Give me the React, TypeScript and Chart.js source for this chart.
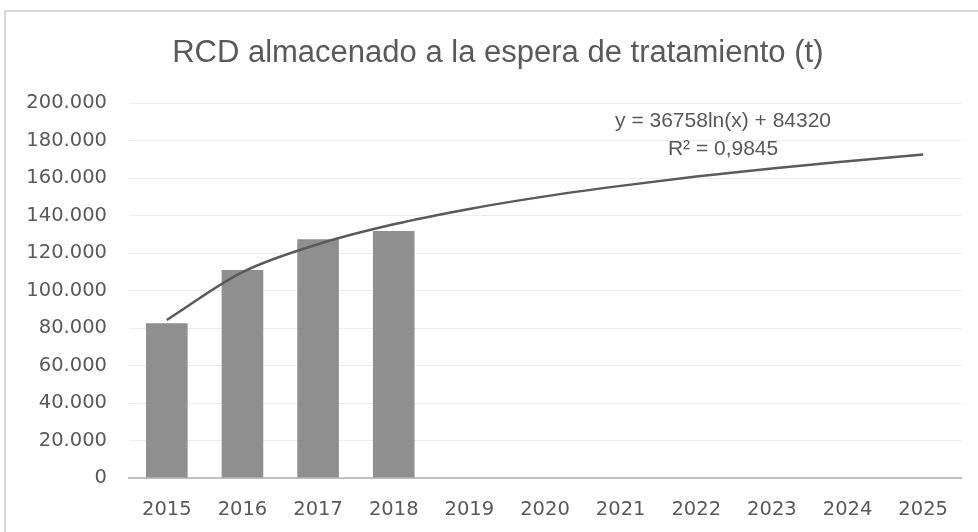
import React, { useEffect, useRef } from "react";
import { Chart, registerables } from "chart.js";

Chart.register(...registerables);

const years = ["2015", "2016", "2017", "2018", "2019", "2020", "2021", "2022", "2023", "2024", "2025"];
const storedTonnes = [82600, 111000, 127300, 131700, null, null, null, null, null, null, null];
const trendTonnes = [84300, 109800, 124700, 135300, 143500, 150200, 155800, 160800, 165100, 168900, 172500];
const yMin = 0;
const yMax = 200000;
const yStep = 20000;
const titleText = "RCD almacenado a la espera de tratamiento (t)";
const trendEquation = "y = 36758ln(x) + 84320";
const trendR2 = "R² = 0,9845";

const fmt = (v: number) => Math.round(v).toString().replace(/\B(?=(\d{3})+(?!\d))/g, ".");

const textPlugin = {
  id: "textLabels",
  afterDraw(chart: any) {
    const { ctx, chartArea, width } = chart;
    ctx.save();
    ctx.fillStyle = "#595959";
    ctx.textAlign = "center";
    ctx.textBaseline = "middle";
    // title
    ctx.font = "31px 'Liberation Sans', Arial, sans-serif";
    ctx.fillText(titleText, width * 0.509, 53);
    // trendline label
    const x = chartArea.left + (chartArea.right - chartArea.left) * 0.714;
    ctx.font = "21px 'Liberation Sans', Arial, sans-serif";
    ctx.fillText(trendEquation, x, chartArea.top + 18);
    ctx.fillText(trendR2, x, chartArea.top + 46);
    ctx.restore();
  },
};

export default function App() {
  const ref = useRef<HTMLCanvasElement | null>(null);

  useEffect(() => {
    if (!ref.current) return;
    const chart = new Chart(ref.current, {
      type: "bar",
      data: {
        labels: years,
        datasets: [
          {
            type: "line",
            label: "Tendencia",
            data: trendTonnes,
            borderColor: "#5a5a5a",
            borderWidth: 2.5,
            pointRadius: 0,
            cubicInterpolationMode: "monotone",
            fill: false,
            order: 0,
          } as any,
          {
            type: "bar",
            label: "RCD almacenado",
            data: storedTonnes,
            backgroundColor: "#8f8f8f",
            barPercentage: 0.55,
            categoryPercentage: 1,
            order: 1,
          } as any,
        ],
      },
      options: {
        responsive: false,
        animation: false,
        layout: { padding: { left: 0, right: 17, top: 103, bottom: 0 } },
        plugins: {
          legend: { display: false },
          tooltip: { enabled: false },
          title: { display: false },
        },
        scales: {
          x: {
            grid: { display: false, drawTicks: false },
            border: { display: true, color: "#bfbfbf", width: 2 },
            ticks: {
              color: "#595959",
              font: { family: "'DejaVu Sans', sans-serif", size: 19.5 },
              padding: 20,
              maxRotation: 0,
              autoSkip: false,
            },
            afterFit(scale: any) {
              scale.height = 54;
            },
          },
          y: {
            min: yMin,
            max: yMax,
            grid: { color: "#ededed", lineWidth: 1, drawTicks: false },
            border: { display: false },
            ticks: {
              stepSize: yStep,
              color: "#595959",
              font: { family: "'DejaVu Sans', sans-serif", size: 19.5 },
              padding: 22,
              callback: (v: any) => fmt(Number(v)),
            },
            afterFit(scale: any) {
              scale.width = 129;
            },
          },
        },
      },
      plugins: [textPlugin],
    });
    return () => chart.destroy();
  }, []);

  return (
    <div style={{ position: "fixed", left: 0, top: 0, width: 978, height: 532, overflow: "hidden", background: "#fff" }}>
      <canvas ref={ref} width={978} height={532} style={{ position: "absolute", left: 0, top: 0 }} />
      <div
        style={{
          position: "absolute",
          left: 4,
          top: 10,
          width: 1100,
          height: 700,
          border: "2px solid #d9d9d9",
          pointerEvents: "none",
        }}
      />
    </div>
  );
}
